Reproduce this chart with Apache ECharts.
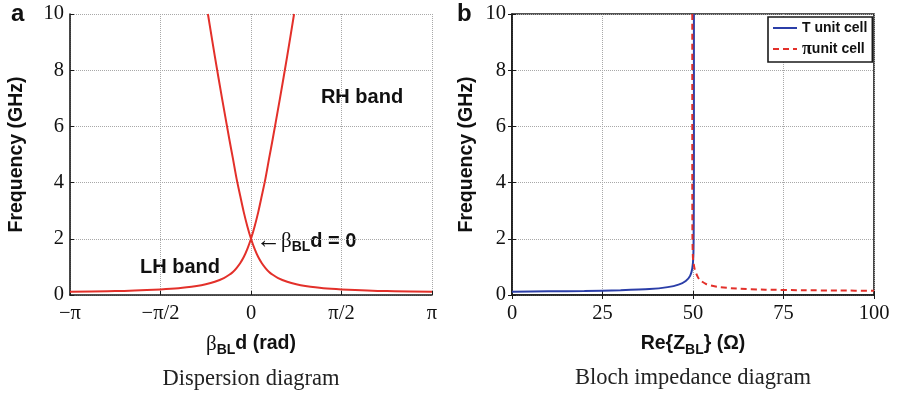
<!DOCTYPE html>
<html>
<head>
<meta charset="utf-8">
<script src="https://cdn.jsdelivr.net/npm/echarts@6/dist/echarts.min.js"></script>
<style>
  html, body { margin: 0; padding: 0; background: #fff; }
  #main { width: 897px; height: 394px; }
</style>
</head>
<body>
<div id="main"></div>
<script>
// panel a: dispersion, beta in units of pi
var betaRise = [-1, -0.75, -0.5, -0.4, -0.3, -0.25, -0.2, -0.15, -0.12, -0.1, -0.08, -0.06, -0.04, -0.02, 0, 0.02, 0.04, 0.06, 0.08, 0.1, 0.12, 0.16, 0.2, 0.238];
var freqRise = [0.12, 0.14, 0.2, 0.24, 0.32, 0.38, 0.47, 0.6, 0.72, 0.82, 0.96, 1.13, 1.35, 1.64, 2.0, 2.44, 2.95, 3.54, 4.15, 4.86, 5.55, 7.0, 8.5, 10];
var betaFall = [-0.238, -0.2, -0.16, -0.12, -0.1, -0.08, -0.06, -0.04, -0.02, 0, 0.02, 0.04, 0.06, 0.08, 0.1, 0.12, 0.15, 0.2, 0.25, 0.3, 0.4, 0.5, 0.75, 1];
var freqFall = [10, 8.5, 7.0, 5.55, 4.86, 4.15, 3.54, 2.95, 2.44, 2.0, 1.64, 1.35, 1.13, 0.96, 0.82, 0.72, 0.6, 0.47, 0.38, 0.32, 0.24, 0.2, 0.14, 0.12];
var betaTicks = ['\u2212\u03c0', '\u2212\u03c0/2', '0', '\u03c0/2', '\u03c0'];

// panel b: Bloch impedance
var zT = [0, 10, 20, 30, 38, 43, 46, 48, 49.2, 49.8, 50.1, 50.2, 50.25, 50.25];
var fT = [0.12, 0.13, 0.14, 0.17, 0.21, 0.28, 0.37, 0.5, 0.68, 0.95, 1.4, 2.5, 5, 10];
var zPi = [49.8, 49.8, 49.85, 50.0, 50.5, 51.7, 53.6, 56.6, 62, 70, 80, 90, 100];
var fPi = [10, 4, 2, 1.3, 0.9, 0.56, 0.39, 0.29, 0.23, 0.19, 0.17, 0.16, 0.15];

function pairs(xs, ys) {
  return xs.map(function (x, i) { return [x, ys[i]]; });
}

var SANS = '"Liberation Sans", Arial, sans-serif';
var SERIF = '"Liberation Serif", "Times New Roman", serif';
var RED = '#e3302a';
var BLUE = '#2b3ea8';
var AXIS = '#1a1a1a';

var myChart = echarts.init(document.getElementById('main'));

function yAxisBase(grid, gap) {
  return {
    type: 'value', gridIndex: grid, min: 0, max: 10, interval: 2,
    name: 'Frequency (GHz)', nameLocation: 'middle', nameGap: gap,
    nameTextStyle: { fontFamily: SANS, fontWeight: 'bold', fontSize: 19.5, color: '#111' },
    axisLine: { show: true, onZero: false, lineStyle: { color: AXIS, width: 1.6 } },
    axisTick: { show: true, inside: true, length: 4, lineStyle: { color: AXIS } },
    axisLabel: { fontFamily: SERIF, fontSize: 20.5, color: '#111', margin: 6 },
    splitLine: { show: true, lineStyle: { type: 'dotted', color: '#a8a8a8', width: 1 } }
  };
}

var subRich = {
  g: { fontFamily: SERIF, fontSize: 21, color: '#111', lineHeight: 26, verticalAlign: 'middle' },
  s: { fontFamily: SANS, fontWeight: 'bold', fontSize: 14, color: '#111', lineHeight: 10, verticalAlign: 'bottom' },
  n: { fontFamily: SANS, fontWeight: 'bold', fontSize: 19.5, color: '#111', lineHeight: 26, verticalAlign: 'middle' }
};

var option = {
  animation: false,
  backgroundColor: '#fff',
  grid: [
    { left: 70, top: 14, width: 362, height: 281, show: false },
    { left: 512, top: 14, width: 362, height: 281, show: true, borderColor: AXIS, borderWidth: 1.6 }
  ],
  xAxis: [
    {
      type: 'value', gridIndex: 0, min: -1, max: 1, interval: 0.5,
      name: '{g|\u03b2}{s|BL}{n|d (rad)}', nameLocation: 'middle', nameGap: 36,
      nameTextStyle: { rich: subRich },
      axisLine: { show: true, onZero: false, lineStyle: { color: AXIS, width: 1.6 } },
      axisTick: { show: true, inside: true, length: 4, lineStyle: { color: AXIS } },
      axisLabel: {
        fontFamily: SERIF, fontSize: 20.5, color: '#111', margin: 8,
        formatter: function (v) { return betaTicks[Math.round((v + 1) / 0.5)]; }
      },
      splitLine: { show: true, lineStyle: { type: 'dotted', color: '#a8a8a8', width: 1 } }
    },
    {
      type: 'value', gridIndex: 1, min: 0, max: 100, interval: 25,
      name: 'Re{Z{s|BL}} (\u03a9)', nameLocation: 'middle', nameGap: 36,
      nameTextStyle: { fontFamily: SANS, fontWeight: 'bold', fontSize: 19.5, color: '#111', lineHeight: 26, rich: subRich },
      axisLine: { show: true, onZero: false, lineStyle: { color: AXIS, width: 1.6 } },
      axisTick: { show: true, inside: true, length: 4, lineStyle: { color: AXIS } },
      axisLabel: { fontFamily: SERIF, fontSize: 20.5, color: '#111', margin: 8 },
      splitLine: { show: true, lineStyle: { type: 'dotted', color: '#a8a8a8', width: 1 } }
    },
    {
      type: 'value', gridIndex: 1, min: 0, max: 100, interval: 25, position: 'top',
      axisLine: { show: false }, axisLabel: { show: false }, splitLine: { show: false },
      axisTick: { show: true, inside: true, length: 4, lineStyle: { color: AXIS } }
    }
  ],
  yAxis: [
    yAxisBase(0, 43),
    yAxisBase(1, 35),
    {
      type: 'value', gridIndex: 1, min: 0, max: 10, interval: 2, position: 'right',
      axisLine: { show: false }, axisLabel: { show: false }, splitLine: { show: false },
      axisTick: { show: true, inside: true, length: 4, lineStyle: { color: AXIS } }
    }
  ],
  legend: {
    data: ['T unit cell', '\u03c0 unit cell'],
    orient: 'vertical', left: 768, top: 17,
    padding: [4, 5, 4, 4], itemGap: 5, itemWidth: 24, itemHeight: 14,
    borderColor: AXIS, borderWidth: 1.6, backgroundColor: '#fff',
    itemStyle: { opacity: 0 },
    textStyle: {
      fontFamily: SANS, fontWeight: 'bold', fontSize: 14, color: '#111',
      rich: { p: { fontFamily: SERIF, fontSize: 18, color: '#111' } }
    },
    formatter: function (name) {
      return name === 'T unit cell' ? name : '{p|\u03c0}unit cell';
    }
  },
  series: [
    {
      name: 'LH/RH rise', type: 'line', xAxisIndex: 0, yAxisIndex: 0,
      data: pairs(betaRise, freqRise), symbol: 'none', smooth: 0.3,
      lineStyle: { color: RED, width: 2 }
    },
    {
      name: 'LH/RH fall', type: 'line', xAxisIndex: 0, yAxisIndex: 0,
      data: pairs(betaFall, freqFall), symbol: 'none', smooth: 0.3,
      lineStyle: { color: RED, width: 2 }
    },
    {
      name: 'T unit cell', type: 'line', xAxisIndex: 1, yAxisIndex: 1,
      data: pairs(zT, fT), symbol: 'none', smooth: 0.2, color: BLUE,
      lineStyle: { color: BLUE, width: 2 }
    },
    {
      name: '\u03c0 unit cell', type: 'line', xAxisIndex: 1, yAxisIndex: 1,
      data: pairs(zPi, fPi), symbol: 'none', smooth: 0.2, color: RED,
      lineStyle: { color: RED, width: 2, type: [6, 4] }
    }
  ],
  graphic: [
    { type: 'text', left: 11, top: 2, style: { text: 'a', font: 'bold 24px ' + SANS, fill: '#111' } },
    { type: 'text', left: 457, top: 2, style: { text: 'b', font: 'bold 24px ' + SANS, fill: '#111' } },
    { type: 'text', x: 362, y: 97, style: { text: 'RH band', font: 'bold 20px ' + SANS, fill: '#111', textAlign: 'center', textVerticalAlign: 'middle' } },
    { type: 'text', x: 180, y: 267, style: { text: 'LH band', font: 'bold 20px ' + SANS, fill: '#111', textAlign: 'center', textVerticalAlign: 'middle' } },
    {
      type: 'text', x: 256, y: 228,
      style: {
        text: '{a|\u2190}{g|\u03b2}{s|BL}{n|d = 0}',
        rich: {
          a: { fontFamily: SERIF, fontSize: 25, fill: '#111', lineHeight: 26, verticalAlign: 'middle' },
          g: { fontFamily: SERIF, fontSize: 21, fill: '#111', lineHeight: 26, verticalAlign: 'middle' },
          s: { fontFamily: SANS, fontWeight: 'bold', fontSize: 14, fill: '#111', lineHeight: 10, verticalAlign: 'bottom' },
          n: { fontFamily: SANS, fontWeight: 'bold', fontSize: 20, fill: '#111', lineHeight: 26, verticalAlign: 'middle' }
        }
      }
    },
    { type: 'text', x: 251, y: 379, style: { text: 'Dispersion diagram', font: '22.5px ' + SERIF, fill: '#222', textAlign: 'center', textVerticalAlign: 'middle' } },
    { type: 'text', x: 693, y: 378, style: { text: 'Bloch impedance diagram', font: '22.5px ' + SERIF, fill: '#222', textAlign: 'center', textVerticalAlign: 'middle' } }
  ]
};

option && myChart.setOption(option);
</script>
</body>
</html>
